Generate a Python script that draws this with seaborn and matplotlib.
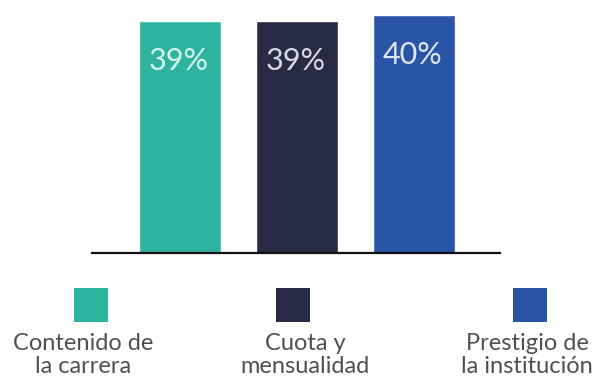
import matplotlib
matplotlib.use("Agg")
import matplotlib.pyplot as plt
import seaborn as sns
import pandas as pd
from matplotlib.patches import Rectangle

# Survey results: reasons for choosing a university
categories = ["Contenido de\nla carrera", "Cuota y\nmensualidad", "Prestigio de\nla institución"]
values = [39, 39, 40]
value_labels = ["39%", "39%", "40%"]
colors = ["#2db39e", "#272c44", "#2a55a6"]
text_colors = ["#d4f6ef", "#d6dae6", "#dde7f8"]

df = pd.DataFrame({"categoria": categories, "valor": values})

sns.set_theme(style="white")
plt.rcParams["font.family"] = ["Lato", "DejaVu Sans"]

fig = plt.figure(figsize=(5.98, 3.79), dpi=100)
W, H = 598, 379
ax_left, ax_right = 92, 500
ax_bottom, ax_top = 253, 15
ax = fig.add_axes([ax_left / W, 1 - ax_bottom / H,
                   (ax_right - ax_left) / W, (ax_bottom - ax_top) / H])

sns.barplot(data=df, x="categoria", y="valor", hue="categoria",
            palette=colors, width=0.70, saturation=1, legend=False, ax=ax)

ax.set_xlim(-0.75, 2.735)
ax.set_ylim(0, 40)
for s in ["top", "right", "left"]:
    ax.spines[s].set_visible(False)
ax.spines["bottom"].set_color("#111111")
ax.spines["bottom"].set_linewidth(1.6)
ax.set_xticks([])
ax.set_yticks([])
ax.set_xlabel("")
ax.set_ylabel("")

# value labels inside the top of each bar
for i, (v, lab, tc) in enumerate(zip(values, value_labels, text_colors)):
    ax.annotate(lab, xy=(i, v), xytext=(-1, -29), textcoords="offset points",
                ha="center", va="center", fontsize=22, color=tc,
                fontweight="normal")

# legend: a colored square above each category name
square_centers = [91, 293, 530]
text_centers = [83, 305, 527]
sq = 34
for sx, tx, col, cat in zip(square_centers, text_centers, colors, categories):
    fig.add_artist(Rectangle(((sx - sq / 2) / W, 1 - 322 / H), sq / W, sq / H,
                             transform=fig.transFigure, color=col, lw=0))
    fig.text(tx / W, 1 - 333 / H, cat, ha="center", va="top", fontsize=17,
             color="#505050", linespacing=1.1)

fig.savefig("out.png", dpi=100)
